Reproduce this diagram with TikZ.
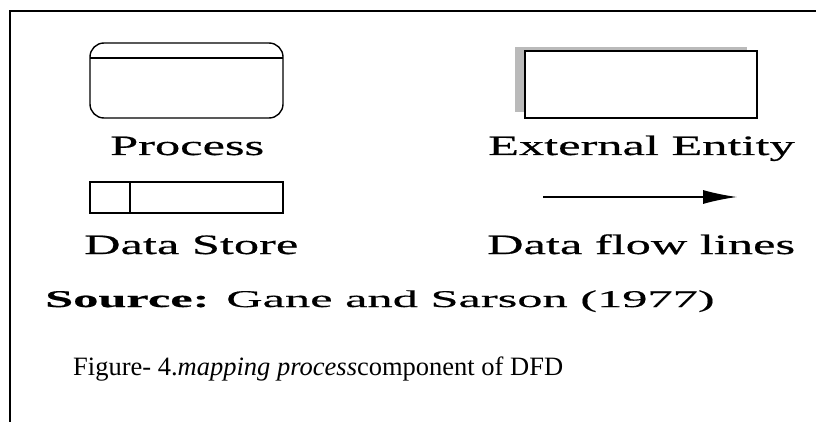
\documentclass[tikz,border=0pt]{standalone}
\usepackage{fontspec}
\setmainfont{Liberation Serif}
\newfontfamily\widefont[FakeStretch=1.8,FakeBold=0.6]{Liberation Serif}
\newfontfamily\srcfont[FakeStretch=2.1,FakeBold=0.6]{Liberation Serif}
\newfontfamily\srcbold[FakeStretch=2.1,FakeBold=0.6]{Liberation Serif Bold}
\usetikzlibrary{arrows.meta}
\tikzset{
  frameline/.style={line width=1.6pt},
  shapeline/.style={draw, line width=1.4pt, inner sep=0pt, outer sep=0pt, fill=white},
  lbl/.style={anchor=base west, inner sep=0pt, font=\widefont\fontsize{28}{32}\selectfont},
  srclbl/.style={anchor=base west, inner sep=0pt, font=\srcfont\fontsize{24}{28}\selectfont},
  caplbl/.style={anchor=base west, inner sep=0pt, font=\fontsize{26.5}{30}\selectfont},
  flow/.style={line width=1.4pt, -{Latex[length=34pt,width=14pt]}}
}
\begin{document}
\begin{tikzpicture}[x=1pt,y=-1pt]
\useasboundingbox (0,0) rectangle (816,422);
% frame
\coordinate (fbl) at (10,422);
\coordinate (ftl) at (10,11);
\coordinate (ftr) at (816,11);
\draw[frameline] (fbl) -- (ftl) -- (ftr);
% process
\node[shapeline, rounded corners=14pt, minimum width=193pt, minimum height=75pt, anchor=north west] (proc) at (90,43) {};
\draw[line width=1.4pt] ([yshift=-15pt]proc.north west) -- ([yshift=-15pt]proc.north east);
\node[lbl] (proclbl) at (110,155) {Process};
% external entity
\node[fill=black!27, inner sep=0pt, outer sep=0pt, minimum width=232pt, minimum height=65pt, anchor=north west] (entsh) at (515,47) {};
\node[shapeline, minimum width=232pt, minimum height=67pt, anchor=north west] (ent) at (525,51) {};
\node[lbl] (entlbl) at (488,155) {External Entity};
% data store
\node[shapeline, minimum width=193pt, minimum height=31pt, anchor=north west] (store) at (90,182) {};
\draw[line width=1.4pt] ([xshift=40pt]store.north west) -- ([xshift=40pt]store.south west);
\node[lbl] (storelbl) at (84,254) {Data Store};
% data flow
\coordinate (fa) at (543,197);
\coordinate (fb) at (737,197);
\draw[flow] (fa) -- (fb);
\node[lbl] (flowlbl) at (487,254) {Data flow lines};
% source
\node[srclbl] (src) at (45,307) {{\srcbold Source:} Gane and Sarson (1977)};
% caption
\node[caplbl] (cap) at (73,375) {Figure- 4.\textit{mapping process}component of DFD};
\end{tikzpicture}
\end{document}
